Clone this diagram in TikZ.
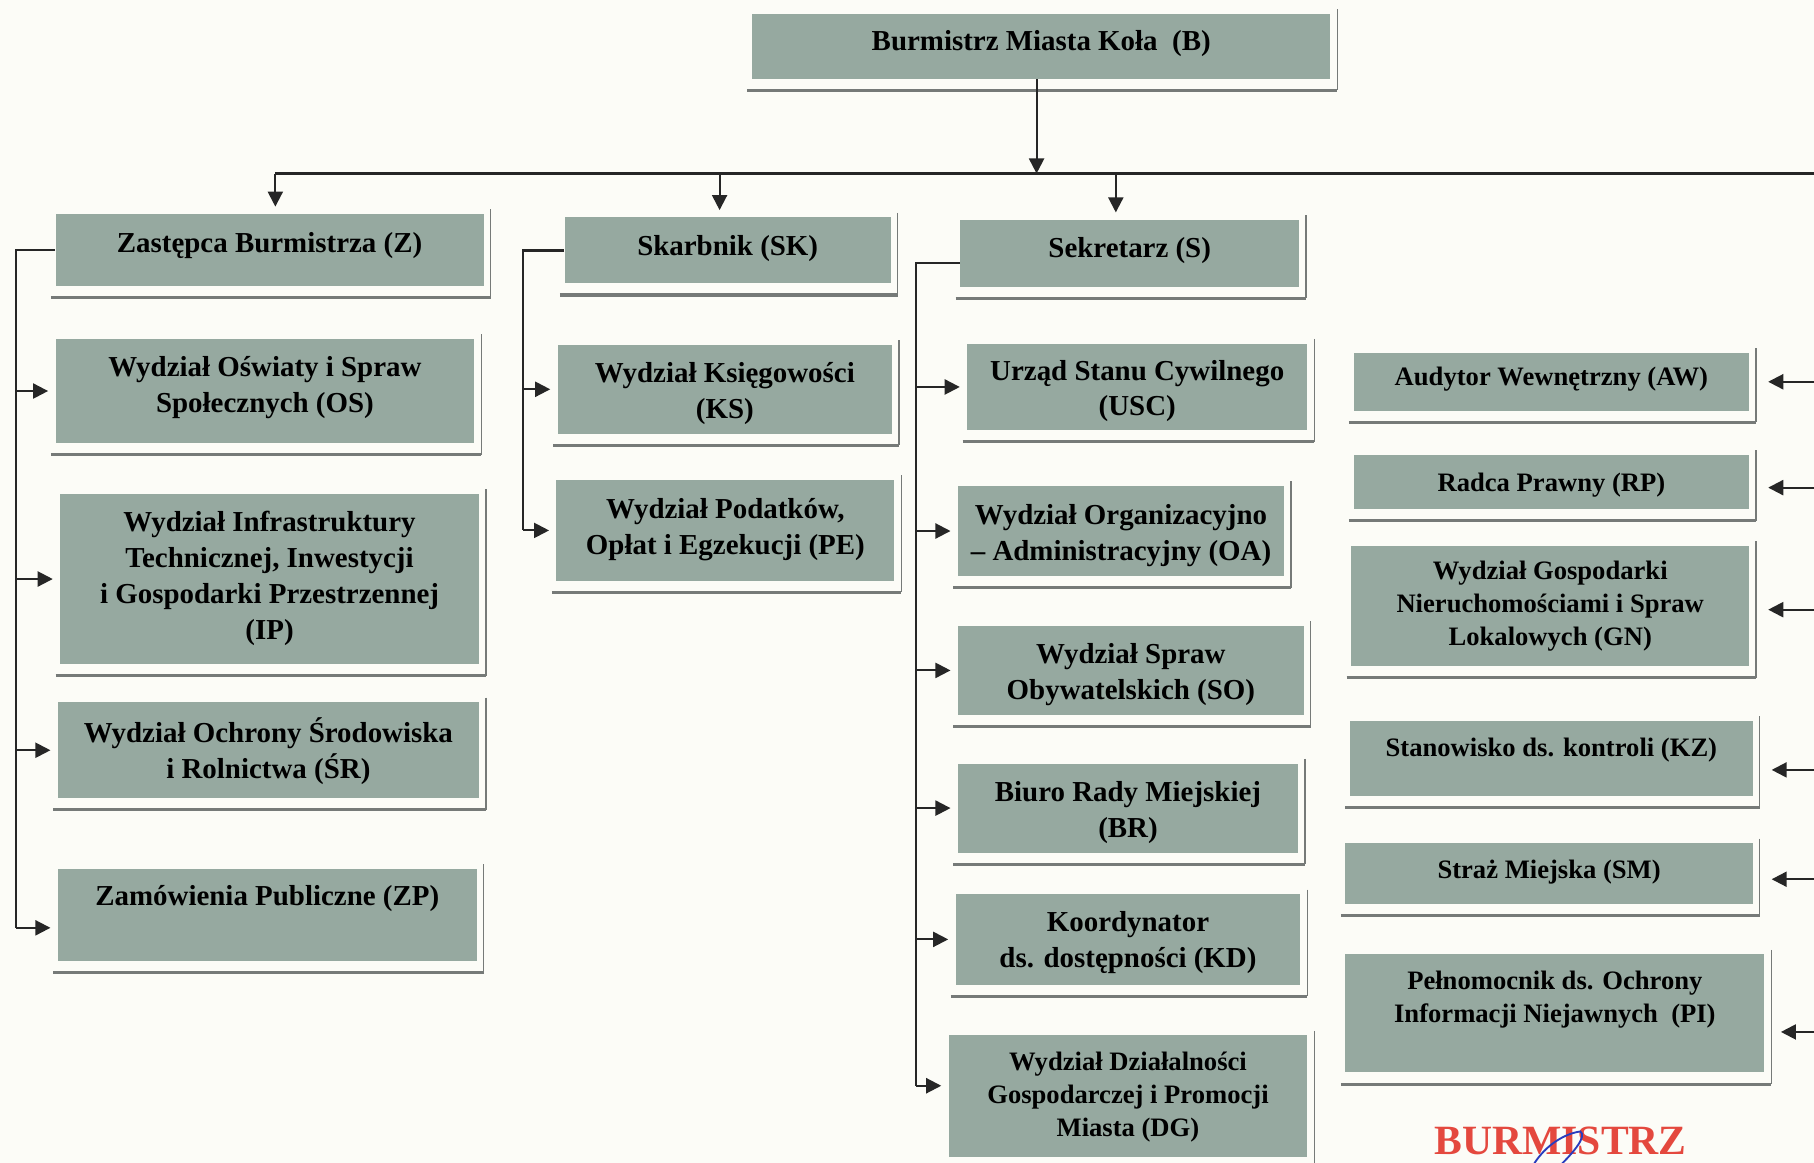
\documentclass[tikz,border=0pt]{standalone}
\usepackage{fontspec}
\setmainfont{Liberation Serif}
\usetikzlibrary{arrows.meta,fit}
\definecolor{boxfill}{RGB}{150,169,160}
\definecolor{framec}{RGB}{118,122,120}
\definecolor{paper}{RGB}{252,252,247}
\definecolor{stampred}{RGB}{228,72,62}
\definecolor{sigblue}{RGB}{40,60,190}
\tikzset{
  boxsh/.style={fill=boxfill, inner sep=0pt, draw=none},
  framev/.style={draw=framec, line width=0.6pt},
  frameh/.style={draw=framec, line width=1.3pt},
  lbl/.style={font={\fontsize{12.5}{15.5}\selectfont\bfseries}, align=center, inner sep=0pt, text=black},
  smalltxt/.style={font={\fontsize{11.5}{14.3}\selectfont\bfseries}},
  conn/.style={line width=0.9pt, draw=black!85},
  arr/.style={conn, -{Triangle[length=6.5pt,width=6.5pt]}},
  arrg/.style={arr, shorten >=3pt},
}
\newcommand\orgbox[8]{%
  \node[boxsh, fit={(#2,#3) (#4,#5)}] (#1) {};
  \draw[framev] (#4+6,#3-4) -- (#4+6,#5+10);
  \draw[frameh] (#2-4,#5+10) -- (#4+6,#5+10);
  \node[lbl,#8] (#1-t) at ({(#2+#4)/2},#6+2) {#7};
}
\begin{document}
\begin{tikzpicture}[x=0.5pt,y=-0.5pt]
\useasboundingbox (0,0) rectangle (1568,1005);
\clip (0,0) rectangle (1568,1005);
\fill[paper] (0,0) rectangle (1568,1005);

% top
\orgbox{b}{650}{12}{1150}{68}{36}{Burmistrz Miasta Koła\ \ (B)}{}

% column 1
\orgbox{z}{48}{185}{418}{247}{210}{Zastępca Burmistrza (Z)}{}
\orgbox{os}{48}{293}{410}{383}{333}{Wydział Oświaty i Spraw\\Społecznych (OS)}{}
\orgbox{ip}{52}{427}{414}{574}{498}{Wydział Infrastruktury\\Technicznej, Inwestycji\\i Gospodarki Przestrzennej\\(IP)}{}
\orgbox{sr}{50}{607}{414}{690}{647}{Wydział Ochrony Środowiska\\i Rolnictwa (ŚR)}{}
\orgbox{zp}{50}{751}{412}{831}{775}{Zamówienia Publiczne (ZP)}{}

% column 2
\orgbox{sk}{488}{188}{770}{245}{213}{Skarbnik (SK)}{}
\orgbox{ks}{482}{298}{771}{375}{338}{Wydział Księgowości\\(KS)}{}
\orgbox{pe}{481}{415}{773}{502}{456}{Wydział Podatków,\\Opłat i Egzekucji (PE)}{}

% column 3
\orgbox{s}{830}{190}{1123}{248}{215}{Sekretarz (S)}{}
\orgbox{usc}{836}{297}{1130}{372}{336}{Urząd Stanu Cywilnego\\(USC)}{}
\orgbox{oa}{828}{420}{1110}{498}{461}{Wydział Organizacyjno\\– Administracyjny (OA)}{}
\orgbox{so}{828}{541}{1127}{618}{581}{Wydział Spraw\\Obywatelskich (SO)}{}
\orgbox{br}{828}{660}{1122}{737}{700}{Biuro Rady Miejskiej\\(BR)}{}
\orgbox{kd}{826}{773}{1124}{851}{813}{Koordynator\\ds. dostępności (KD)}{}
\orgbox{dg}{820}{895}{1130}{1000}{946}{Wydział Działalności\\Gospodarczej i Promocji\\Miasta (DG)}{smalltxt}

% column 4
\orgbox{aw}{1170}{305}{1512}{355}{326}{Audytor Wewnętrzny (AW)}{smalltxt}
\orgbox{rp}{1170}{393}{1512}{440}{417}{Radca Prawny (RP)}{smalltxt}
\orgbox{gn}{1168}{472}{1512}{576}{522}{Wydział Gospodarki\\Nieruchomościami i Spraw\\Lokalowych (GN)}{smalltxt}
\orgbox{kz}{1167}{623}{1515}{688}{646}{Stanowisko ds. kontroli (KZ)}{smalltxt}
\orgbox{sm}{1163}{729}{1515}{781}{752}{Straż Miejska (SM)}{smalltxt}
\orgbox{pi}{1163}{825}{1525}{927}{862}{Pełnomocnik ds. Ochrony\\Informacji Niejawnych\ \ (PI)}{smalltxt}

% main distribution line
\coordinate (hl) at (238,150);
\coordinate (hr) at (1575,150);
\draw[conn] (hl) -- (hr);
\draw[arr] ([xshift=-2pt]b.south) -- ([xshift=-2pt]b.south |- hl);
\draw[arrg] (hl) -- (hl |- z.north);
\draw[arrg] ([xshift=-3.5pt]sk.north |- hl) -- ([xshift=-3.5pt]sk.north);
\draw[arrg] ([xshift=-6pt]s.north |- hl) -- ([xshift=-6pt]s.north);

% column 1 bus
\coordinate (bz) at (14,216);
\coordinate (zpin) at ([yshift=-5.5pt]zp.west);
\draw[conn] (z.west) -- (bz |- z.west) -- (bz |- zpin);
\draw[arrg] (bz |- os.west) -- (os.west);
\draw[arrg] (bz |- ip.west) -- (ip.west);
\draw[arrg] (bz |- sr.west) -- (sr.west);
\draw[arrg] (bz |- zpin) -- (zpin);

% column 2 bus
\coordinate (bsk) at (452,0);
\draw[conn] (sk.west) -- (bsk |- sk.west) -- (bsk |- pe.west);
\draw[arrg] (bsk |- ks.west) -- (ks.west);
\draw[arrg] (bsk |- pe.west) -- (pe.west);

% column 3 bus
\coordinate (bs) at (792,0);
\coordinate (sout) at ([yshift=-4pt]s.west);
\coordinate (dgin) at ([yshift=4.5pt]dg.west);
\draw[conn] (sout) -- (bs |- sout) -- (bs |- dgin);
\draw[arrg] (bs |- usc.west) -- (usc.west);
\draw[arrg] (bs |- oa.west) -- (oa.west);
\draw[arrg] (bs |- so.west) -- (so.west);
\draw[arrg] (bs |- br.west) -- (br.west);
\draw[arrg] (bs |- kd.west) -- (kd.west);
\draw[arrg] (bs |- dgin) -- (dgin);

% column 4 arrows from the right
\coordinate (rb) at (1575,0);
\coordinate (awin) at ([xshift=8pt]aw.east);
\coordinate (rpin) at ([xshift=8pt,yshift=-2.5pt]rp.east);
\coordinate (gnin) at ([xshift=8pt,yshift=-1.5pt]gn.east);
\coordinate (kzin) at ([xshift=8pt,yshift=-5pt]kz.east);
\coordinate (smin) at ([xshift=8pt,yshift=-2.5pt]sm.east);
\coordinate (piin) at ([xshift=7pt,yshift=-8pt]pi.east);
\foreach \c in {awin,rpin,gnin,kzin,smin,piin}
  \draw[arr] (rb |- \c) -- (\c);

% stamp
\node[font={\fontsize{18}{20}\selectfont\bfseries}, text=stampred, anchor=base, inner sep=0pt] (stamp) at (1349,998) {BURMISTRZ};
\draw[sigblue, line width=0.8pt] (1326,1006) .. controls (1336,990) and (1352,980) .. (1366,978)
  .. controls (1372,982) and (1360,996) .. (1350,1006);
\end{tikzpicture}
\end{document}
